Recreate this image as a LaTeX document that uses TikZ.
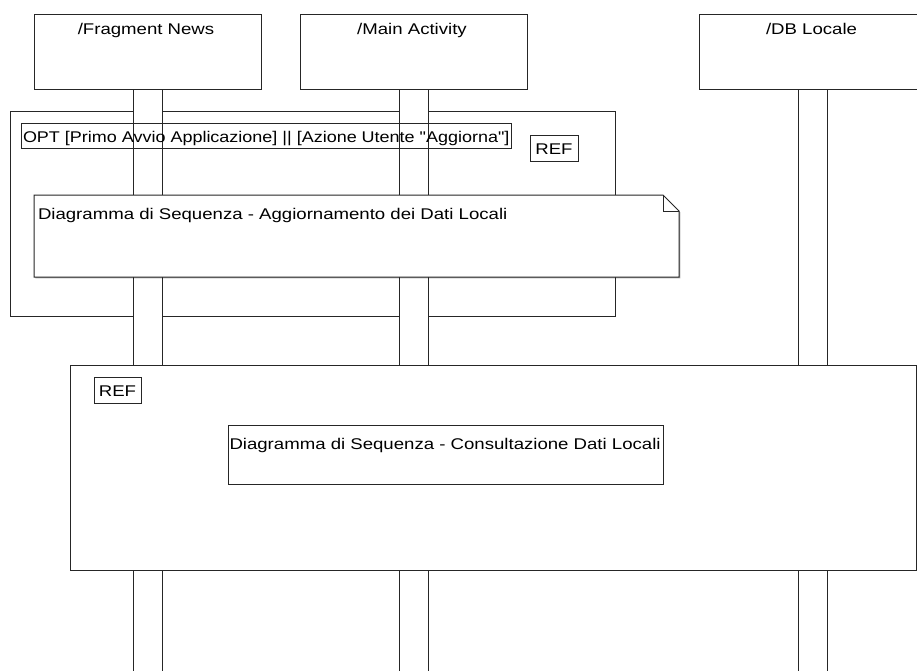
\documentclass[tikz,border=0pt]{standalone}
\usepackage{fontspec}
\setmainfont[FakeStretch=1.2]{Liberation Sans}
\newfontfamily\guardfont[FakeStretch=1.16]{Liberation Sans}
\usetikzlibrary{shadows,calc}

\begin{document}
\begin{tikzpicture}[x=1pt,y=-1pt,
  font=\fontsize{15.5}{18}\selectfont,
  every node/.style={inner sep=0pt, outer sep=0pt},
  edge/.style={draw=black!85, line width=1pt},
  boxshadow/.style={drop shadow={shadow xshift=1.3pt, shadow yshift=-1.3pt, fill=black, opacity=0.3}},
  lifebox/.style={edge, boxshadow, fill=white, minimum width=227pt, minimum height=75pt, anchor=north west},
  lifebar/.style={edge, boxshadow, fill=white, minimum width=29pt, minimum height=600pt, anchor=north},
  frame/.style={edge, boxshadow, fill=white, anchor=north west},
  tag/.style={edge, minimum width=48pt, minimum height=26pt, text height=17.5pt, text depth=4pt, anchor=north west},
  txt/.style={anchor=base west},
  title/.style={anchor=base}]

\useasboundingbox (0,0) rectangle (917,670);
\clip (0,0) rectangle (917,670);
\fill[white] (0,0) rectangle (917,670);

% optional combined fragment
\node[frame, minimum width=605pt, minimum height=205pt] (opt) at (10,111) {};

% lifeline heads
\node[lifebox] (fn) at (34,14) {};
\node[lifebox] (ma) at (300,14) {};
\node[lifebox] (db) at (699,14) {};
\node[title] (fnlbl) at ($(fn.north)+(-1.5,20)$) {/Fragment News};
\node[title] (malbl) at ($(ma.north)+(-1.5,20)$) {/Main Activity};
\node[title] (dblbl) at ($(db.north)+(-1,20)$) {/DB Locale};

% activation bars
\node[lifebar] (fnbar) at (fn.south) {};
\node[lifebar] (mabar) at (ma.south) {};
\node[lifebar] (dbbar) at (db.south) {};

% guard of the optional fragment
\node[edge, anchor=base west, inner xsep=2pt, inner ysep=2.2pt, text height=17.5pt, text depth=4pt]
  (guard) at (21,142.7) {\guardfont OPT [Primo Avvio Applicazione] || [Azione Utente "Aggiorna"]};
\node[tag] (ref1) at (530,135) {REF};

% note with folded corner
\node[anchor=north west, minimum width=645pt, minimum height=82pt] (note) at (34,195) {};
\filldraw[edge, fill=white, boxshadow]
  (note.north west) -- ($(note.north east)+(-16,0)$) -- ($(note.north east)+(0,16)$)
  -- (note.south east) -- (note.south west) -- cycle;
\draw[edge] ($(note.north east)+(-16,0)$) -- ($(note.north east)+(-16,16)$) -- ($(note.north east)+(0,16)$);
\node[txt] (notetxt) at (38,219) {Diagramma di Sequenza - Aggiornamento dei Dati Locali};

% reference frame
\node[frame, minimum width=846pt, minimum height=205pt] (refframe) at (70,365) {};
\node[tag, minimum width=47pt] (ref2) at (94,377) {REF};
\node[edge, anchor=north west, minimum width=435pt, minimum height=59pt] (consbox) at (228,425) {};
\node[txt] (constxt) at (229.5,449) {Diagramma di Sequenza - Consultazione Dati Locali};

\end{tikzpicture}
\end{document}
